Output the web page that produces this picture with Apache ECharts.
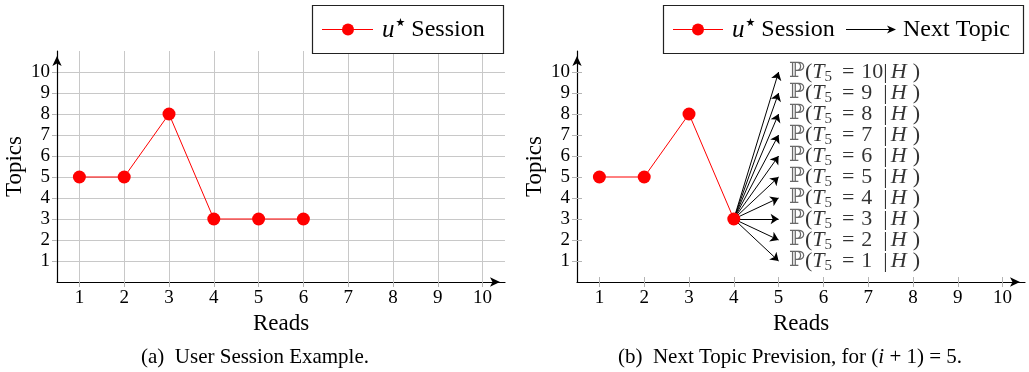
<!DOCTYPE html>
<html><head><meta charset="utf-8">
<script src="https://cdn.jsdelivr.net/npm/echarts@6/dist/echarts.min.js"></script>
<style>html,body{margin:0;padding:0;background:#fff}#c{width:1029px;height:372px}</style>
</head><body><div id="c"></div>
<script>
// ---- data ----
const readTicks = [1, 2, 3, 4, 5, 6, 7, 8, 9, 10];
const topicTicks = [1, 2, 3, 4, 5, 6, 7, 8, 9, 10];
const sessionReadsA = [1, 2, 3, 4, 5, 6];
const sessionTopicsA = [5, 5, 8, 3, 3, 3];
const sessionReadsB = [1, 2, 3, 4];
const sessionTopicsB = [5, 5, 8, 3];
const nextRead = 5;
const nextTopics = [1, 2, 3, 4, 5, 6, 7, 8, 9, 10];
const xName = 'Reads';
const yName = 'Topics';
const legendSession = 'Session';
const legendNext = 'Next Topic';
const captionA = '(a)  User Session Example.';
const captionB = '(b)  Next Topic Prevision, for ({i|i} + 1) = 5.';

// ---- style ----
const SERIF = '"Liberation Serif", "DejaVu Serif", serif';
const RED = '#ff0000';
const GRID_GRAY = '#c8c8c8';
const TICK_GRAY = '#b4b4b4';
const X_MIN = 0.5, X_MAX = 10.5, Y_MIN = 0, Y_MAX = 11;

function zip(a, b) { return a.map((v, i) => [v, b[i]]); }

function mainX(gridIndex, showSplit) {
  return {
    type: 'value', gridIndex, min: X_MIN, max: X_MAX,
    name: xName, nameLocation: 'middle', nameGap: 28,
    nameTextStyle: { fontFamily: SERIF, fontSize: 23, color: '#000' },
    axisLine: { show: true, onZero: false, lineStyle: { color: '#000', width: 1.2 },
      symbol: ['none', 'arrow'], symbolSize: [7, 10], symbolOffset: [0, -5] },
    axisTick: { show: true, inside: false, length: 5, customValues: readTicks,
      lineStyle: { color: TICK_GRAY, width: 1 } },
    axisLabel: { show: true, customValues: readTicks, margin: 7,
      fontFamily: SERIF, fontSize: 19, color: '#000' },
    splitLine: { show: showSplit, lineStyle: { color: GRID_GRAY, width: 1 } }
  };
}
function mainY(gridIndex, showSplit) {
  return {
    type: 'value', gridIndex, min: Y_MIN, max: Y_MAX,
    name: yName, nameLocation: 'middle', nameGap: 31, nameRotate: 90,
    nameTextStyle: { fontFamily: SERIF, fontSize: 23, color: '#000' },
    axisLine: { show: true, onZero: false, lineStyle: { color: '#000', width: 1.2 },
      symbol: ['none', 'arrow'], symbolSize: [7, 10], symbolOffset: [0, -5] },
    axisTick: { show: true, inside: false, length: 5, customValues: topicTicks,
      lineStyle: { color: TICK_GRAY, width: 1 } },
    axisLabel: { show: true, customValues: topicTicks, margin: 7,
      fontFamily: SERIF, fontSize: 19, color: '#000' },
    splitLine: { show: showSplit, lineStyle: { color: GRID_GRAY, width: 1 } }
  };
}
function overlayX(gridIndex) {
  return { type: 'value', gridIndex, min: X_MIN, max: X_MAX,
    axisLine: { show: false }, axisLabel: { show: false }, splitLine: { show: false },
    axisTick: { show: true, inside: true, length: 5, customValues: readTicks,
      lineStyle: { color: TICK_GRAY, width: 1 } } };
}
function overlayY(gridIndex) {
  return { type: 'value', gridIndex, min: Y_MIN, max: Y_MAX,
    axisLine: { show: false }, axisLabel: { show: false }, splitLine: { show: false },
    axisTick: { show: true, inside: true, length: 5, customValues: topicTicks,
      lineStyle: { color: TICK_GRAY, width: 1 } } };
}

const gridTop = 51, gridH = 231, gridW = 448;
const lastRead = sessionReadsB[sessionReadsB.length - 1];
const lastTopic = sessionTopicsB[sessionTopicsB.length - 1];

const probRich = {
  bb: { fontFamily: '"DejaVu Serif", serif', fontSize: 21, color: '#444' },
  t: { fontFamily: SERIF, fontSize: 22, color: '#000' },
  i: { fontFamily: SERIF, fontSize: 22, fontStyle: 'italic', color: '#000' },
  s: { fontFamily: SERIF, fontSize: 15, color: '#000', padding: [10, 0, 0, 0] },
  eq: { fontFamily: SERIF, fontSize: 22, color: '#000', padding: [0, 7, 0, 10] },
  n: { fontFamily: SERIF, fontSize: 22, color: '#000', width: 22, align: 'left' },
  bar: { fontFamily: SERIF, fontSize: 22, color: '#000', padding: [0, 3, 0, 0] },
  cp: { fontFamily: SERIF, fontSize: 22, color: '#000', padding: [0, 0, 0, 6] }
};

const legendRich = {
  u: { fontFamily: SERIF, fontSize: 25, fontStyle: 'italic', fill: '#000' },
  st: { fontFamily: '"DejaVu Sans", sans-serif', fontSize: 11, fill: '#000', padding: [0, 0, 13, 1] },
  t: { fontFamily: SERIF, fontSize: 24, fill: '#000' }
};

const option = {
  animation: false,
  backgroundColor: '#fff',
  grid: [
    { left: 57, top: gridTop, width: gridW, height: gridH },
    { left: 577, top: gridTop, width: gridW, height: gridH },
    { left: 577, top: gridTop, width: gridW, height: gridH }
  ],
  xAxis: [mainX(0, true), mainX(1, false), overlayX(2)],
  yAxis: [mainY(0, true), mainY(1, false), overlayY(2)],
  series: [
    { type: 'line', xAxisIndex: 0, yAxisIndex: 0, data: zip(sessionReadsA, sessionTopicsA),
      symbol: 'circle', symbolSize: 13, z: 5,
      itemStyle: { color: RED }, lineStyle: { color: RED, width: 1 } },
    { type: 'lines', coordinateSystem: 'cartesian2d', xAxisIndex: 1, yAxisIndex: 1, z: 3,
      symbol: ['none', 'arrow'], symbolSize: 8,
      lineStyle: { color: '#000', width: 1, opacity: 1 },
      data: nextTopics.map(k => ({ coords: [[lastRead, lastTopic], [nextRead, k]] })) },
    { type: 'line', xAxisIndex: 1, yAxisIndex: 1, data: zip(sessionReadsB, sessionTopicsB),
      symbol: 'circle', symbolSize: 13, z: 5,
      itemStyle: { color: RED }, lineStyle: { color: RED, width: 1 } },
    { type: 'scatter', xAxisIndex: 1, yAxisIndex: 1, z: 4,
      data: nextTopics.map(k => [nextRead, k]),
      symbolSize: 1, itemStyle: { color: 'rgba(0,0,0,0)' },
      label: { show: true, position: 'right', distance: 10,
        formatter: p => '{bb|ℙ}{t|(}{i|T}{s|5}{eq|=}{n|' + p.value[1] + '}{bar||}{i|H}{cp|)}',
        rich: probRich } }
  ],
  graphic: [
    // left legend
    { type: 'rect', shape: { x: 312.5, y: 5.5, width: 191, height: 48 },
      style: { fill: '#fff', stroke: '#222', lineWidth: 1.2 }, z: 10 },
    { type: 'line', shape: { x1: 322, y1: 29.5, x2: 373, y2: 29.5 },
      style: { stroke: RED, lineWidth: 1 }, z: 11 },
    { type: 'circle', shape: { cx: 348, cy: 29.5, r: 6 }, style: { fill: RED }, z: 11 },
    { type: 'text', x: 382, y: 30, z: 11,
      style: { text: '{u|u}{st|★}{t| ' + legendSession + '}', rich: legendRich,
        verticalAlign: 'middle', align: 'left' } },
    // right legend
    { type: 'rect', shape: { x: 663.5, y: 5.5, width: 360, height: 48 },
      style: { fill: '#fff', stroke: '#222', lineWidth: 1.2 }, z: 10 },
    { type: 'line', shape: { x1: 673, y1: 29.5, x2: 723, y2: 29.5 },
      style: { stroke: RED, lineWidth: 1 }, z: 11 },
    { type: 'circle', shape: { cx: 698, cy: 29.5, r: 6 }, style: { fill: RED }, z: 11 },
    { type: 'text', x: 732, y: 30, z: 11,
      style: { text: '{u|u}{st|★}{t| ' + legendSession + '}', rich: legendRich,
        verticalAlign: 'middle', align: 'left' } },
    { type: 'line', shape: { x1: 846, y1: 29.5, x2: 893, y2: 29.5 },
      style: { stroke: '#000', lineWidth: 1 }, z: 11 },
    { type: 'polygon', shape: { points: [[896, 29.5], [887, 25.5], [889.5, 29.5], [887, 33.5]] },
      style: { fill: '#000' }, z: 11 },
    { type: 'text', x: 903, y: 30, z: 11,
      style: { text: legendNext, fontFamily: SERIF, fontSize: 24, fill: '#000',
        verticalAlign: 'middle', align: 'left' } },
    // captions
    { type: 'text', x: 255, y: 357, z: 11,
      style: { text: captionA, fontFamily: SERIF, fontSize: 21, fill: '#000',
        align: 'center', verticalAlign: 'middle' } },
    { type: 'text', x: 790, y: 357, z: 11,
      style: { text: captionB, fontFamily: SERIF, fontSize: 21, fill: '#000',
        align: 'center', verticalAlign: 'middle',
        rich: { i: { fontFamily: SERIF, fontSize: 21, fontStyle: 'italic', fill: '#000' } } } }
  ]
};

const chart = echarts.init(document.getElementById('c'), null, { renderer: 'canvas' });
chart.setOption(option);
</script>
</body></html>
